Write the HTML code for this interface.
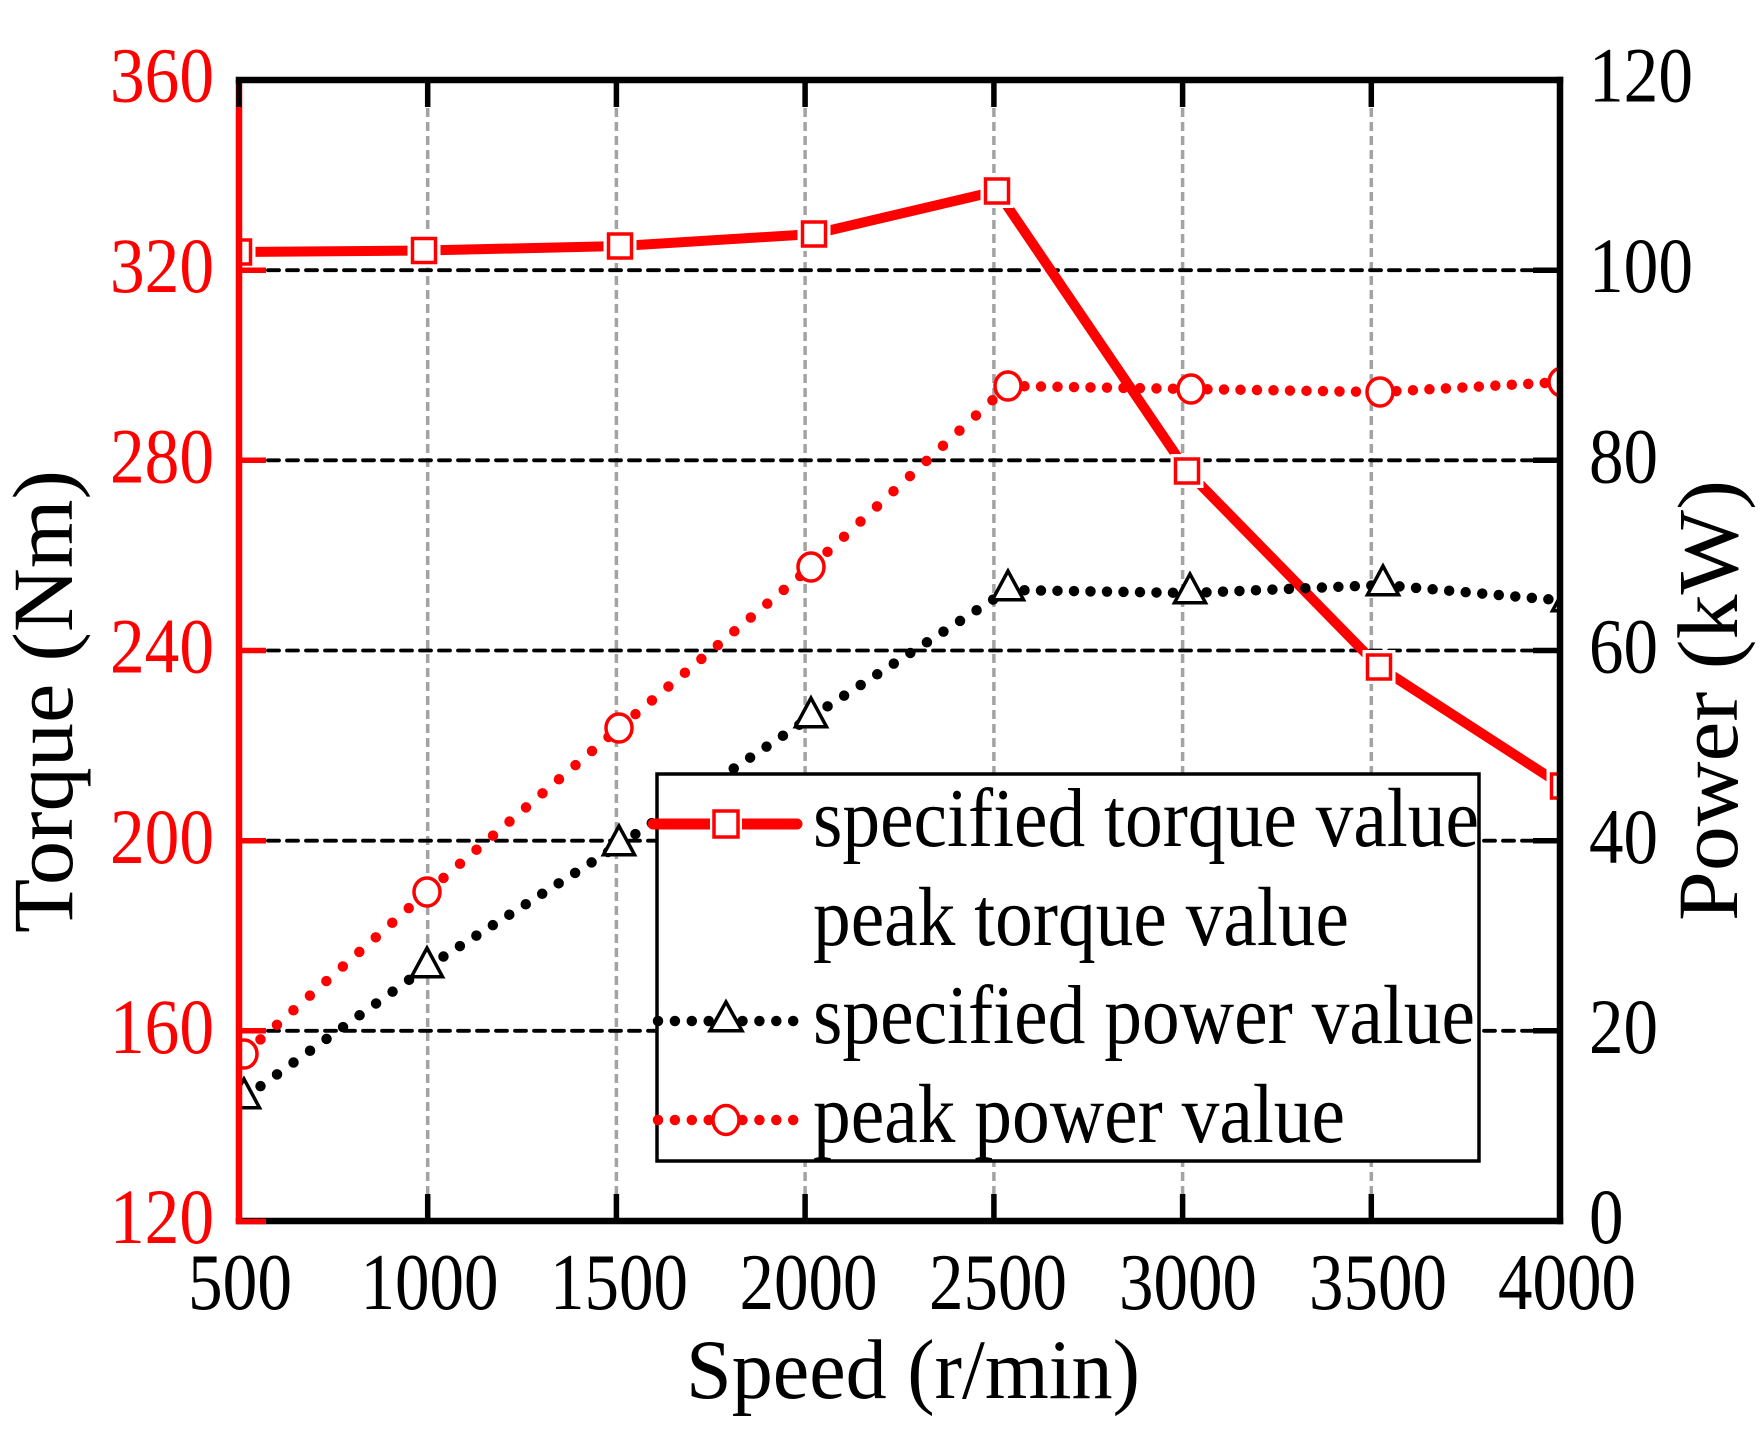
<!DOCTYPE html>
<html>
<head>
<meta charset="utf-8">
<style>
html,body{margin:0;padding:0;background:#fff;}
svg{display:block;}
text{font-family:"Liberation Serif","Times New Roman",serif;}
</style>
</head>
<body>
<svg width="1763" height="1436" viewBox="0 0 1763 1436" xmlns="http://www.w3.org/2000/svg">
<rect x="0" y="0" width="1763" height="1436" fill="#fff"/>
<defs>
<clipPath id="pc"><rect x="239" y="80" width="1321" height="1141"/></clipPath>
</defs>

<!-- vertical gray grid -->
<g stroke="#a3a3a3" stroke-width="3.5" stroke-dasharray="9 5" fill="none">
<line x1="427.7" y1="80" x2="427.7" y2="1221"/>
<line x1="616.4" y1="80" x2="616.4" y2="1221"/>
<line x1="805.1" y1="80" x2="805.1" y2="1221"/>
<line x1="993.9" y1="80" x2="993.9" y2="1221"/>
<line x1="1182.6" y1="80" x2="1182.6" y2="1221"/>
<line x1="1371.3" y1="80" x2="1371.3" y2="1221"/>
</g>
<!-- horizontal black dashed grid -->
<g stroke="#000" stroke-width="3.8" stroke-dasharray="11 8" stroke-linecap="round" fill="none">
<line x1="268" y1="270.2" x2="1532" y2="270.2"/>
<line x1="268" y1="460.3" x2="1532" y2="460.3"/>
<line x1="268" y1="650.5" x2="1532" y2="650.5"/>
<line x1="268" y1="840.7" x2="1532" y2="840.7"/>
<line x1="268" y1="1030.8" x2="1532" y2="1030.8"/>
</g>

<g clip-path="url(#pc)">
<!-- specified torque: red solid -->
<polyline points="239,252 424,250.5 620,246 814,234 997,191 1187,471 1379,667 1563,786" fill="none" stroke="#f00" stroke-width="10" stroke-linejoin="round" stroke-linecap="round"/>
<g fill="#fff" stroke="#fff" stroke-width="10">
<rect x="227.5" y="240" width="23" height="24"/>
<rect x="412.5" y="238.5" width="23" height="24"/>
<rect x="608.5" y="234" width="23" height="24"/>
<rect x="802.5" y="222" width="23" height="24"/>
<rect x="985.5" y="179" width="23" height="24"/>
<rect x="1175.5" y="459" width="23" height="24"/>
<rect x="1367.5" y="655" width="23" height="24"/>
<rect x="1551.5" y="774" width="23" height="24"/>
</g>
<g fill="#fff" stroke="#f00" stroke-width="3.5">
<rect x="227.5" y="240" width="23" height="24"/>
<rect x="412.5" y="238.5" width="23" height="24"/>
<rect x="608.5" y="234" width="23" height="24"/>
<rect x="802.5" y="222" width="23" height="24"/>
<rect x="985.5" y="179" width="23" height="24"/>
<rect x="1175.5" y="459" width="23" height="24"/>
<rect x="1367.5" y="655" width="23" height="24"/>
<rect x="1551.5" y="774" width="23" height="24"/>
</g>

<!-- specified power: black dotted -->
<g stroke="#000" stroke-width="10.5" stroke-linecap="round" fill="none">
<line x1="244" y1="1098" x2="427" y2="967" stroke-dasharray="0 20.3"/>
<line x1="427" y1="967" x2="619" y2="845" stroke-dasharray="0 19.5"/>
<line x1="619" y1="845" x2="811" y2="717" stroke-dasharray="0 19.7"/>
<line x1="811" y1="717" x2="1008" y2="590" stroke-dasharray="0 19.7"/>
<line x1="1008" y1="590" x2="1190" y2="593" stroke-dasharray="0 16.5"/>
<line x1="1190" y1="593" x2="1383" y2="585" stroke-dasharray="0 16.5"/>
<line x1="1383" y1="585" x2="1568" y2="601" stroke-dasharray="0 16.6"/>
</g>
<g fill="#fff" stroke="#000" stroke-width="3.5" stroke-linejoin="miter">
<polygon points="244,1079 228.5,1107.7 259.5,1107.7"/>
<polygon points="427,948 411.5,976.7 442.5,976.7"/>
<polygon points="619,826 603.5,854.7 634.5,854.7"/>
<polygon points="811,698 795.5,726.7 826.5,726.7"/>
<polygon points="1008,571 992.5,599.7 1023.5,599.7"/>
<polygon points="1190,574 1174.5,602.7 1205.5,602.7"/>
<polygon points="1383,566 1367.5,594.7 1398.5,594.7"/>
<polygon points="1568,582 1552.5,610.7 1583.5,610.7"/>
</g>

<!-- peak power: red dotted -->
<g stroke="#f00" stroke-width="10.5" stroke-linecap="round" fill="none">
<line x1="244" y1="1054" x2="427" y2="892" stroke-dasharray="0 22"/>
<line x1="427" y1="892" x2="619" y2="728" stroke-dasharray="0 21.7"/>
<line x1="619" y1="728" x2="811" y2="567" stroke-dasharray="0 21.5"/>
<line x1="811" y1="567" x2="1008" y2="386" stroke-dasharray="0 22.4"/>
<line x1="1008" y1="386" x2="1191" y2="389" stroke-dasharray="0 16.5"/>
<line x1="1191" y1="389" x2="1380" y2="392" stroke-dasharray="0 16.5"/>
<line x1="1380" y1="392" x2="1562" y2="382" stroke-dasharray="0 16.5"/>
</g>
<g fill="#fff" stroke="#f00" stroke-width="3.5">
<ellipse cx="244" cy="1054" rx="13" ry="14"/>
<ellipse cx="427" cy="892" rx="13" ry="14"/>
<ellipse cx="619" cy="728" rx="13" ry="14"/>
<ellipse cx="811" cy="567" rx="13" ry="14"/>
<ellipse cx="1008" cy="386" rx="13" ry="14"/>
<ellipse cx="1191" cy="389" rx="13" ry="14"/>
<ellipse cx="1380" cy="392" rx="13" ry="14"/>
<ellipse cx="1562" cy="382" rx="13" ry="14"/>
</g>
</g>

<!-- legend -->
<rect x="657" y="774" width="822" height="387" fill="#fff" stroke="#000" stroke-width="3.5"/>
<line x1="653" y1="824" x2="797" y2="824" stroke="#f00" stroke-width="11" stroke-linecap="round"/>
<rect x="710" y="807" width="32" height="34" fill="#fff"/>
<rect x="714" y="811" width="24" height="26" fill="#fff" stroke="#f00" stroke-width="3.5"/>
<line x1="658" y1="1021" x2="794" y2="1021" stroke="#000" stroke-width="10.5" stroke-linecap="round" stroke-dasharray="0 16.9"/>
<polygon points="726,1002 710,1030.7 742,1030.7" fill="#fff" stroke="#000" stroke-width="3.5"/>
<line x1="658" y1="1120" x2="794" y2="1120" stroke="#f00" stroke-width="10.5" stroke-linecap="round" stroke-dasharray="0 16.9"/>
<ellipse cx="726" cy="1120" rx="13" ry="14.5" fill="#fff" stroke="#f00" stroke-width="3.5"/>
<g font-size="84" fill="#000">
<text x="813" y="846" textLength="666" lengthAdjust="spacingAndGlyphs">specified torque value</text>
<text x="813" y="945" textLength="536" lengthAdjust="spacingAndGlyphs">peak torque value</text>
<text x="813" y="1043" textLength="662" lengthAdjust="spacingAndGlyphs">specified power value</text>
<text x="813" y="1142" textLength="532" lengthAdjust="spacingAndGlyphs">peak power value</text>
</g>

<!-- axes frame -->
<line x1="239" y1="1221" x2="1560" y2="1221" stroke="#000" stroke-width="6.5" stroke-linecap="square"/>
<line x1="239" y1="80" x2="239" y2="1221" stroke="#f00" stroke-width="6.5"/>
<line x1="239" y1="80" x2="1560" y2="80" stroke="#000" stroke-width="6.5" stroke-linecap="square"/>
<line x1="1560" y1="80" x2="1560" y2="1221" stroke="#000" stroke-width="6.5" stroke-linecap="square"/>

<!-- ticks -->
<g stroke="#000" stroke-width="5.5">
<line x1="239" y1="80" x2="239" y2="107"/>
<line x1="427.7" y1="80" x2="427.7" y2="107"/>
<line x1="616.4" y1="80" x2="616.4" y2="107"/>
<line x1="805.1" y1="80" x2="805.1" y2="107"/>
<line x1="993.9" y1="80" x2="993.9" y2="107"/>
<line x1="1182.6" y1="80" x2="1182.6" y2="107"/>
<line x1="1371.3" y1="80" x2="1371.3" y2="107"/>
<line x1="427.7" y1="1221" x2="427.7" y2="1194"/>
<line x1="616.4" y1="1221" x2="616.4" y2="1194"/>
<line x1="805.1" y1="1221" x2="805.1" y2="1194"/>
<line x1="993.9" y1="1221" x2="993.9" y2="1194"/>
<line x1="1182.6" y1="1221" x2="1182.6" y2="1194"/>
<line x1="1371.3" y1="1221" x2="1371.3" y2="1194"/>
<line x1="1560" y1="270.2" x2="1533" y2="270.2"/>
<line x1="1560" y1="460.3" x2="1533" y2="460.3"/>
<line x1="1560" y1="650.5" x2="1533" y2="650.5"/>
<line x1="1560" y1="840.7" x2="1533" y2="840.7"/>
<line x1="1560" y1="1030.8" x2="1533" y2="1030.8"/>
</g>
<g stroke="#f00" stroke-width="5.5">
<line x1="236" y1="270.2" x2="266" y2="270.2"/>
<line x1="236" y1="460.3" x2="266" y2="460.3"/>
<line x1="236" y1="650.5" x2="266" y2="650.5"/>
<line x1="236" y1="840.7" x2="266" y2="840.7"/>
<line x1="236" y1="1030.8" x2="266" y2="1030.8"/>
<line x1="236" y1="1221.5" x2="266" y2="1221.5"/>
</g>

<!-- left tick labels -->
<g font-size="78" fill="#f00" text-anchor="end">
<text x="214" y="101.5" textLength="104" lengthAdjust="spacingAndGlyphs">360</text>
<text x="214" y="292" textLength="104" lengthAdjust="spacingAndGlyphs">320</text>
<text x="214" y="482.5" textLength="104" lengthAdjust="spacingAndGlyphs">280</text>
<text x="214" y="672.7" textLength="104" lengthAdjust="spacingAndGlyphs">240</text>
<text x="214" y="862.9" textLength="104" lengthAdjust="spacingAndGlyphs">200</text>
<text x="214" y="1053" textLength="104" lengthAdjust="spacingAndGlyphs">160</text>
<text x="214" y="1243" textLength="104" lengthAdjust="spacingAndGlyphs">120</text>
</g>
<!-- right tick labels -->
<g font-size="78" fill="#000">
<text x="1589" y="101.5" textLength="104" lengthAdjust="spacingAndGlyphs">120</text>
<text x="1589" y="292" textLength="104" lengthAdjust="spacingAndGlyphs">100</text>
<text x="1589" y="482.5" textLength="69" lengthAdjust="spacingAndGlyphs">80</text>
<text x="1589" y="672.7" textLength="69" lengthAdjust="spacingAndGlyphs">60</text>
<text x="1589" y="862.9" textLength="69" lengthAdjust="spacingAndGlyphs">40</text>
<text x="1589" y="1053" textLength="69" lengthAdjust="spacingAndGlyphs">20</text>
<text x="1589" y="1243" textLength="34.5" lengthAdjust="spacingAndGlyphs">0</text>
</g>
<!-- x tick labels -->
<g font-size="80" fill="#000" text-anchor="middle">
<text x="240" y="1309" textLength="104" lengthAdjust="spacingAndGlyphs">500</text>
<text x="429.5" y="1309" textLength="138" lengthAdjust="spacingAndGlyphs">1000</text>
<text x="619" y="1309" textLength="138" lengthAdjust="spacingAndGlyphs">1500</text>
<text x="808.5" y="1309" textLength="138" lengthAdjust="spacingAndGlyphs">2000</text>
<text x="998" y="1309" textLength="138" lengthAdjust="spacingAndGlyphs">2500</text>
<text x="1188" y="1309" textLength="138" lengthAdjust="spacingAndGlyphs">3000</text>
<text x="1378" y="1309" textLength="138" lengthAdjust="spacingAndGlyphs">3500</text>
<text x="1567" y="1309" textLength="138" lengthAdjust="spacingAndGlyphs">4000</text>
</g>

<!-- axis titles -->
<text x="686" y="1398" font-size="85" fill="#000" textLength="454" lengthAdjust="spacingAndGlyphs">Speed (r/min)</text>
<text transform="translate(72,933) rotate(-90)" x="0" y="0" font-size="86" fill="#000" textLength="463" lengthAdjust="spacingAndGlyphs">Torque (Nm)</text>
<text transform="translate(1737,921) rotate(-90)" x="0" y="0" font-size="86" fill="#000" textLength="441" lengthAdjust="spacingAndGlyphs">Power (kW)</text>
</svg>
</body>
</html>
